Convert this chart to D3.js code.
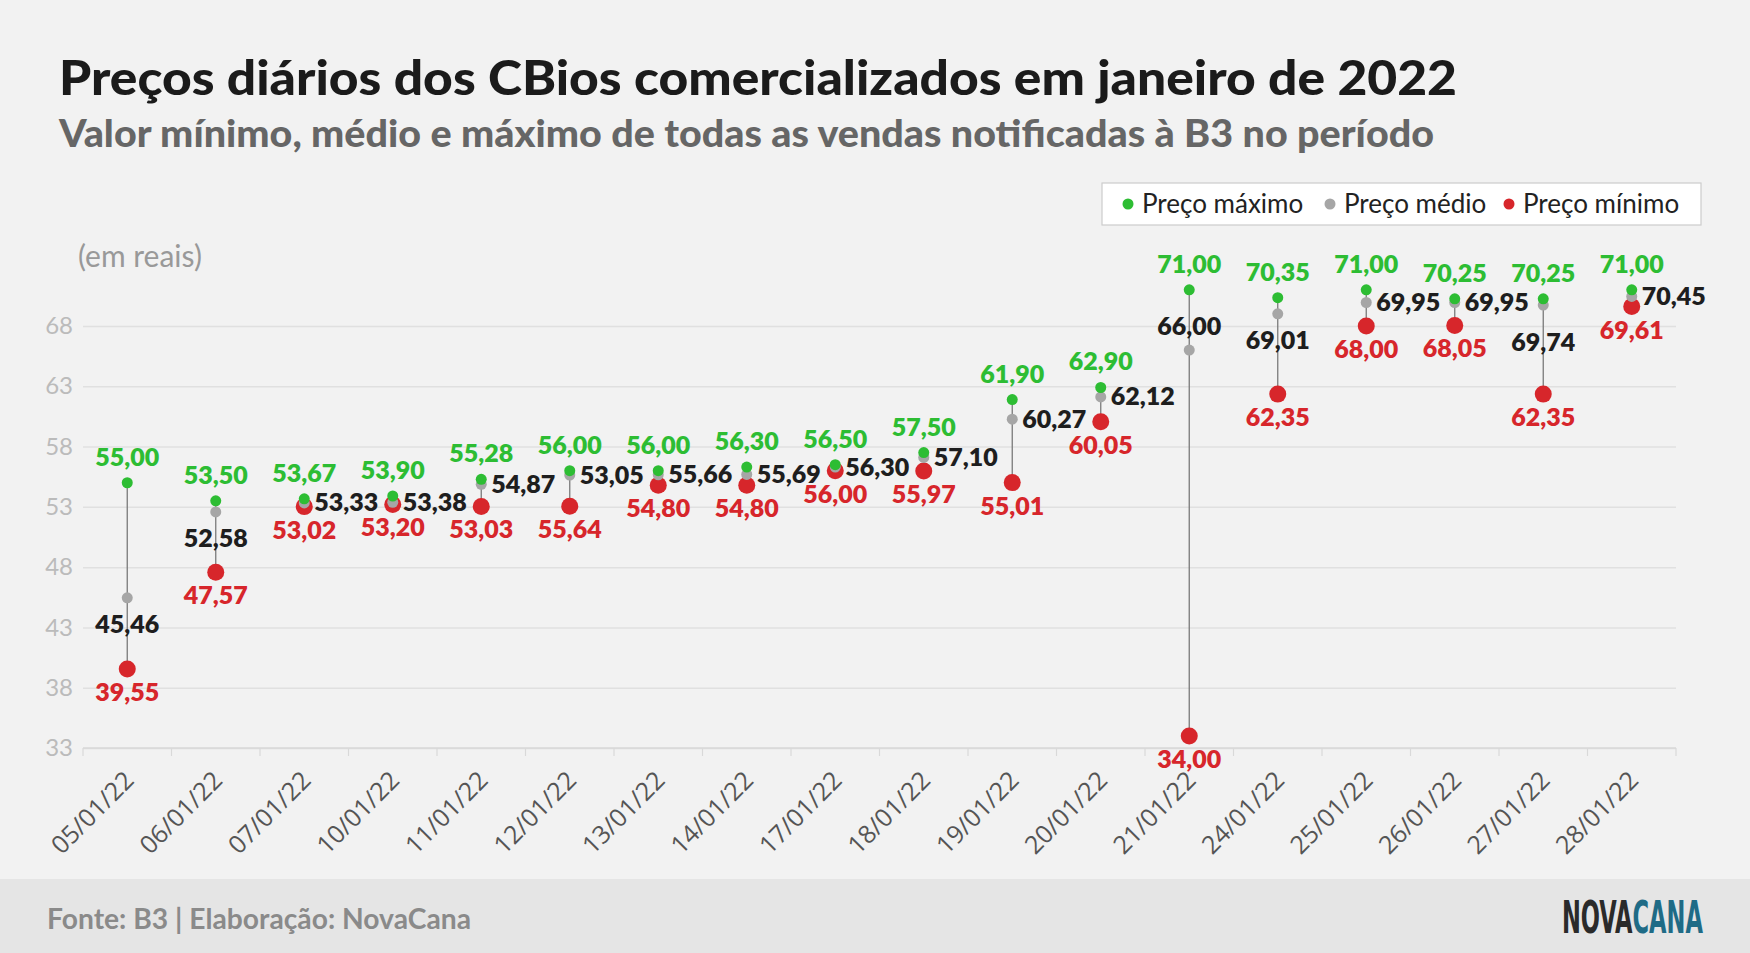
<!DOCTYPE html>
<html>
<head>
<meta charset="utf-8">
<script src="https://cdn.jsdelivr.net/npm/d3@7"></script>
<style>
  body { margin: 0; background: #f2f2f2; }
  svg { display: block; font-family: Lato, sans-serif; }
</style>
</head>
<body>
<svg width="1750" height="953"></svg>
<script>
/* global d3 */

const width = 1750,
    height = 953,
    margin = ({ top: 326, right: 74, bottom: 205, left: 83 });

// dias de negociação
const dates = ["05/01/22", "06/01/22", "07/01/22", "10/01/22", "11/01/22", "12/01/22",
  "13/01/22", "14/01/22", "17/01/22", "18/01/22", "19/01/22", "20/01/22",
  "21/01/22", "24/01/22", "25/01/22", "26/01/22", "27/01/22", "28/01/22"];

const maxPrice = [55.00, 53.50, 53.67, 53.90, 55.28, 56.00, 56.00, 56.30, 56.50,
  57.50, 61.90, 62.90, 71.00, 70.35, 71.00, 70.25, 70.25, 71.00];

const meanPrice = [45.46, 52.58, 53.33, 53.38, 54.87, 55.64, 55.66, 55.69, 56.30,
  57.10, 60.27, 62.12, 66.00, 69.01, 69.95, 69.95, 69.74, 70.45];

const minPrice = [39.55, 47.57, 53.02, 53.20, 53.03, 53.05, 54.80, 54.80, 56.00,
  55.97, 55.01, 60.05, 34.00, 62.35, 68.00, 68.05, 62.35, 69.61];

const yTicks = [33, 38, 43, 48, 53, 58, 63, 68];

// no original, os rótulos de médio e mínimo estão trocados neste dia
const swappedLabels = ["12/01/22"];

// posição do rótulo do preço médio (padrão: à direita)
const meanSide = { "05/01/22": "below", "06/01/22": "below", "21/01/22": "above",
  "24/01/22": "below", "27/01/22": "belowFar" };

const green = "#2dbd33",
    grey = "#a6a6a6",
    red = "#d7262b";

const br = d3.formatLocale({ decimal: ",", thousands: ".", grouping: [3], currency: ["R$", ""] });
const fmt = br.format(".2f");

const data = dates.map((d, i) => ({
  date: d,
  max: maxPrice[i],
  mean: meanPrice[i],
  min: minPrice[i],
  meanLabel: swappedLabels.includes(d) ? minPrice[i] : meanPrice[i],
  minLabel: swappedLabels.includes(d) ? meanPrice[i] : minPrice[i]
}));

const svg = d3.select("svg");

svg.append("rect")
  .attr("width", width)
  .attr("height", height)
  .attr("fill", "#f2f2f2");

const x = d3.scaleBand()
  .domain(dates)
  .range([margin.left, width - margin.right]);

const y = d3.scaleLinear()
  .domain([33, 68])
  .range([height - margin.bottom, margin.top]);

// títulos
svg.append("text")
  .attr("x", 59).attr("y", 95)
  .attr("font-size", 48).attr("font-weight", 900)
  .attr("textLength", 1398)
  .attr("lengthAdjust", "spacingAndGlyphs")
  .attr("fill", "#1b1b1b")
  .text("Preços diários dos CBios comercializados em janeiro de 2022");

svg.append("text")
  .attr("x", 59).attr("y", 147)
  .attr("font-size", 37).attr("font-weight", 900)
  .attr("textLength", 1375)
  .attr("lengthAdjust", "spacingAndGlyphs")
  .attr("fill", "#666")
  .text("Valor mínimo, médio e máximo de todas as vendas notificadas à B3 no período");

svg.append("text")
  .attr("x", 78).attr("y", 267)
  .attr("font-size", 30)
  .attr("fill", "#999")
  .text("(em reais)");

// grade e eixo y
const gy = svg.append("g")
  .attr("transform", `translate(${margin.left},0)`)
  .call(d3.axisLeft(y).tickValues(yTicks).tickSize(-(width - margin.left - margin.right)).tickPadding(10))
  .call(g => g.select(".domain").remove());

gy.selectAll(".tick line")
  .attr("stroke", "#e0e0e0")
  .attr("stroke-width", 1.5);

gy.selectAll(".tick text")
  .attr("font-family", "Lato, sans-serif")
  .attr("font-size", 24)
  .attr("fill", "#bbb");

// eixo x
const xAxis = svg.append("g")
  .attr("transform", `translate(0,${y(33)})`);

xAxis.append("line")
  .attr("x1", margin.left).attr("x2", width - margin.right)
  .attr("stroke", "#d9d9d9").attr("stroke-width", 1.5);

xAxis.selectAll(".sep")
  .data(dates.concat(["end"]))
  .join("line")
  .attr("class", "sep")
  .attr("x1", (d, i) => i < dates.length ? x(d) : x(dates[dates.length - 1]) + x.bandwidth())
  .attr("x2", (d, i) => i < dates.length ? x(d) : x(dates[dates.length - 1]) + x.bandwidth())
  .attr("y1", 0).attr("y2", 8)
  .attr("stroke", "#d9d9d9").attr("stroke-width", 1.2);

xAxis.selectAll(".lab")
  .data(dates)
  .join("text")
  .attr("class", "lab")
  .attr("transform", d => `translate(${x(d) + x.bandwidth() / 2 + 8},34) rotate(-45)`)
  .attr("text-anchor", "end")
  .attr("font-family", "'Open Sans', sans-serif")
  .attr("font-size", 25)
  .attr("fill", "#555")
  .text(d => d);

const cx = d => x(d.date) + x.bandwidth() / 2;

// linhas verticais
svg.append("g")
  .selectAll("line")
  .data(data)
  .join("line")
  .attr("x1", cx).attr("x2", cx)
  .attr("y1", d => y(d.max))
  .attr("y2", d => y(d.min))
  .attr("stroke", "#7a7a7a")
  .attr("stroke-width", 1.3);

// pontos
svg.append("g")
  .selectAll("circle")
  .data(data)
  .join("circle")
  .attr("cx", cx).attr("cy", d => y(d.min))
  .attr("r", 8.5)
  .attr("fill", red);

svg.append("g")
  .selectAll("circle")
  .data(data)
  .join("circle")
  .attr("cx", cx).attr("cy", d => y(d.mean))
  .attr("r", 5.5)
  .attr("fill", grey);

svg.append("g")
  .selectAll("circle")
  .data(data)
  .join("circle")
  .attr("cx", cx).attr("cy", d => y(d.max))
  .attr("r", 5.5)
  .attr("fill", green);

// rótulos
const labels = svg.append("g")
  .attr("font-size", 25)
  .attr("font-weight", 800);

labels.selectAll(".max")
  .data(data)
  .join("text")
  .attr("class", "max")
  .attr("x", cx)
  .attr("y", d => y(d.max) - 17)
  .attr("text-anchor", "middle")
  .attr("fill", green)
  .text(d => fmt(d.max));

labels.selectAll(".min")
  .data(data)
  .join("text")
  .attr("class", "min")
  .attr("x", cx)
  .attr("y", d => y(d.min) + 32)
  .attr("text-anchor", "middle")
  .attr("fill", red)
  .text(d => fmt(d.minLabel));

labels.selectAll(".mean")
  .data(data)
  .join("text")
  .attr("class", "mean")
  .attr("x", d => meanSide[d.date] ? cx(d) : cx(d) + 10)
  .attr("y", d => {
    const side = meanSide[d.date];
    if (side === "below") return y(d.mean) + 35;
    if (side === "belowFar") return y(d.mean) + 46;
    if (side === "above") return y(d.mean) - 15;
    return y(d.mean) + 8.5;
  })
  .attr("text-anchor", d => meanSide[d.date] ? "middle" : "start")
  .attr("fill", "#1e1e1e")
  .text(d => fmt(d.meanLabel));

// legenda
const legendItems = [
  { name: "Preço máximo", color: green },
  { name: "Preço médio", color: grey },
  { name: "Preço mínimo", color: red }
];

const legend = svg.append("g");

legend.append("rect")
  .attr("x", 1102).attr("y", 183)
  .attr("width", 599).attr("height", 42)
  .attr("fill", "#fff")
  .attr("stroke", "#ccc")
  .attr("stroke-width", 1.2);

const legendX = [1128, 1330, 1509];

const li = legend.selectAll(".item")
  .data(legendItems)
  .join("g")
  .attr("class", "item")
  .attr("transform", (d, i) => `translate(${legendX[i]},204)`);

li.append("circle")
  .attr("r", 5.5)
  .attr("fill", d => d.color);

li.append("text")
  .attr("x", 14)
  .attr("y", 9)
  .attr("font-size", 26)
  .attr("fill", "#222")
  .text(d => d.name);

// rodapé
svg.append("rect")
  .attr("x", 0).attr("y", 879)
  .attr("width", width).attr("height", height - 879)
  .attr("fill", "#e5e5e5");

svg.append("text")
  .attr("x", 47).attr("y", 929)
  .attr("font-size", 28).attr("font-weight", 700)
  .attr("textLength", 424)
  .attr("lengthAdjust", "spacingAndGlyphs")
  .attr("fill", "#8a8a8a")
  .text("Fonte: B3 | Elaboração: NovaCana");

// logotipo: letras condensadas por escala horizontal
const logo = svg.append("text")
  .attr("font-family", "'DejaVu Sans Condensed', 'DejaVu Sans', sans-serif")
  .attr("font-weight", 700)
  .attr("font-size", 45);

logo.append("tspan").attr("fill", "#2a2a2a").text("NOVA");
logo.append("tspan").attr("fill", "#1f6b86").text("CANA");

const logoW = logo.node().getComputedTextLength();
logo.attr("transform", `translate(1562,933) scale(${141 / logoW},1)`);
</script>
</body>
</html>
